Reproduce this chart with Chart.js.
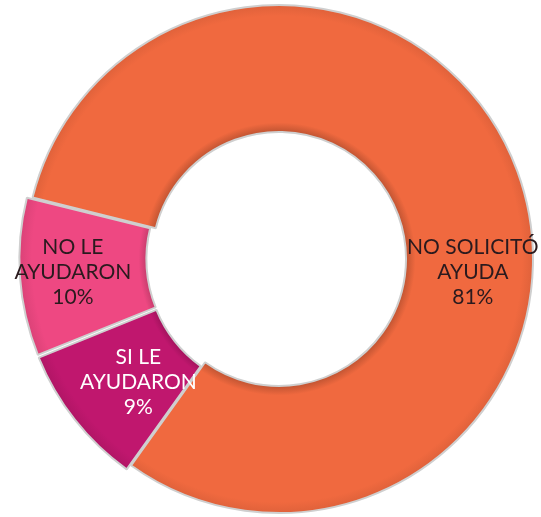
<!DOCTYPE html>
<html><head><meta charset="utf-8">
<script src="https://cdn.jsdelivr.net/npm/chart.js@4/dist/chart.umd.min.js"></script>
<style>html,body{margin:0;padding:0;background:#fff;overflow:hidden}</style>
</head><body>
<canvas id="c" width="541" height="517"></canvas>
<script>
const categories = ['NO SOLICITÓ AYUDA', 'SI LE AYUDARON', 'NO LE AYUDARON'];
const labelLines = [['NO SOLICITÓ', 'AYUDA'], ['SI LE', 'AYUDARON'], ['NO LE', 'AYUDARON']];
const values = [81, 9, 10];
const percentLabels = ['81%', '9%', '10%'];

const sliceColors = ['#F0693F', '#C0176E', '#EE4882'];
const textColors = ['#2a1a1e', '#ffffff', '#2a1a1e'];

function shade(hex, f) {
  const n = parseInt(hex.slice(1), 16);
  let r = (n >> 16) & 255, g = (n >> 8) & 255, b = n & 255;
  const t = f < 0 ? 0 : 255, p = Math.abs(f);
  r = Math.round(r + (t - r) * p); g = Math.round(g + (t - g) * p); b = Math.round(b + (t - b) * p);
  return `rgb(${r},${g},${b})`;
}

const labelPlugin = {
  id: 'sliceLabels',
  afterDatasetsDraw(chart, args, opts) {
    const ctx = chart.ctx;
    const meta = chart.getDatasetMeta(0);
    meta.data.forEach((arc, i) => {
      const p = arc.getProps(['x', 'y', 'startAngle', 'endAngle', 'innerRadius', 'outerRadius'], true);
      const [fa, fr] = opts.place[i];
      const ang = p.startAngle + fa * (p.endAngle - p.startAngle);
      const r = p.innerRadius + fr * (p.outerRadius - p.innerRadius);
      const x = p.x + Math.cos(ang) * r;
      const y = p.y + Math.sin(ang) * r;
      const lines = labelLines[i].concat([percentLabels[i]]);
      ctx.save();
      ctx.font = opts.font;
      ctx.fillStyle = textColors[i];
      ctx.textAlign = 'center';
      ctx.textBaseline = 'middle';
      lines.forEach((t, k) => ctx.fillText(t, x, y + (k - 1) * opts.lineHeight));
      ctx.restore();
    });
  }
};

new Chart(document.getElementById('c'), {
  type: 'doughnut',
  data: {
    labels: categories,
    datasets: [{
      data: values,
      backgroundColor: (c) => {
        const base = sliceColors[c.dataIndex];
        const a = c.chart.chartArea;
        if (!a) return base;
        const cx = (a.left + a.right) / 2, cy = (a.top + a.bottom) / 2;
        const g = c.chart.ctx.createRadialGradient(cx, cy, 127, cx, cy, 262);
        g.addColorStop(0, shade(base, -0.2));
        g.addColorStop(0.07, base);
        g.addColorStop(0.86, base);
        g.addColorStop(1, shade(base, -0.12));
        return g;
      },
      borderColor: '#cfcfcf',
      borderWidth: 2,
      offset: [0, 16, 16]
    }]
  },
  options: {
    responsive: false,
    animation: false,
    events: [],
    rotation: -76,
    radius: 254,
    cutout: '50%',
    layout: { padding: { left: 17, right: 0, top: 1, bottom: 0 } },
    plugins: {
      legend: { display: false },
      tooltip: { enabled: false },
      sliceLabels: {
        font: '21px Lato, "Open Sans", sans-serif',
        lineHeight: 25,
        place: [[0.583, 0.53], [0.41, 0.47], [0.51, 0.626]]
      }
    }
  },
  plugins: [labelPlugin]
});
</script>
</body></html>
